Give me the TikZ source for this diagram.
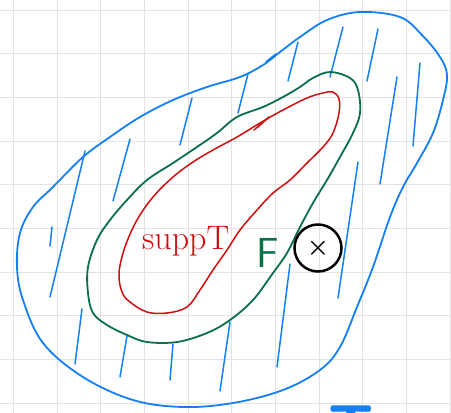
\documentclass[tikz,border=0pt]{standalone}
\usepackage{amsmath}
\usepackage{xcolor}
\usepackage{tikz}
\usetikzlibrary{positioning}
\definecolor{inkblue}{RGB}{20,128,245}
\definecolor{inkgreen}{RGB}{10,112,72}
\definecolor{inkred}{RGB}{205,15,15}
\tikzset{
  gridline/.style ={draw=black!11, line width=0.9pt},
  ink/.style      ={line width=1.8pt, line cap=round, line join=round},
  outerset/.style ={ink, draw=inkblue},
  hatch/.style    ={ink, draw=inkblue, line width=1.5pt},
  nbhd/.style     ={ink, draw=inkgreen},
  support/.style  ={ink, draw=inkred, line width=1.5pt},
  marked/.style   ={circle, draw=black, line width=2.5pt, minimum size=47pt,
    inner sep=0pt, font=\fontsize{26}{26}\selectfont},
  hand/.style     ={inner sep=0pt, anchor=base west}
}

\begin{document}
\begin{tikzpicture}[x=1pt, y=-1pt]
    \useasboundingbox (0,0) rectangle (451,413);
    \clip (0,0) rectangle (451,413);
    \fill[white] (0,0) rectangle (451,413);

    % ---------- squared paper ----------
    \foreach \i in {0,...,10}
      \draw[gridline] ({13.3+43.67*\i},0) -- ++(0,413);
    \foreach \j in {0,...,9}
      \draw[gridline] (0,{10+43.7*\j}) -- ++(451,0);

    % ---------- hatching of the outer set ----------
    \foreach \ax/\ay/\bx/\by in {343/27/330/77, 378/29/367/81, 420/63/413/146,
        397/77/380/184, 298/42/288/81, 248/74/238/113, 192/98/180/145,
        130/139/113/201, 85/151/50/297, 52/227/50/246, 82/309/75/364,
        127/336/120/377, 173/344/170/380, 230/322/220/391, 290/264/277/367,
        358/162/338/298}
      \draw[hatch] (\ax,\ay) -- (\bx,\by);

    % ---------- outer set ----------
    \draw[outerset] plot[smooth cycle, tension=0.6] coordinates {
      (360,12) (400,17) (422,35) (440,57) (447,75) (443,100) (433,133)
      (417,163) (403,187) (390,217) (373,267) (357,307) (340,347) (320,370)
      (283,390) (233,403) (183,407) (133,400) (83,377) (43,343) (23,300)
      (17,267) (20,233) (33,207) (53,187) (83,157) (110,137) (140,117)
      (173,100) (207,87) (240,77) (263,65) (280,52) (300,37) (327,20)};
    \draw[outerset] (266,62) -- (276,54);

    % ---------- neighbourhood F ----------
    \draw[nbhd] plot[smooth cycle, tension=0.6] coordinates {
      (330,72) (350,78) (358,90) (360,113) (353,133) (340,157) (327,180)
      (313,203) (300,227) (287,253) (273,273) (253,300) (230,320) (207,333)
      (177,342) (147,342) (127,335) (107,325) (93,313) (88,293) (88,267)
      (97,240) (110,220) (127,200) (147,180) (173,163) (197,147) (217,133)
      (237,117) (263,107) (283,97) (300,87) (313,78)};

    % ---------- support of T ----------
    \draw[support] plot[smooth cycle, tension=0.6] coordinates {
      (333,92) (339,99) (339,113) (333,133) (323,147) (307,163) (290,180)
      (273,193) (257,210) (240,230) (227,250) (213,270) (200,290) (187,307)
      (167,313) (147,312) (130,302) (122,292) (119,273) (125,247) (137,220)
      (153,197) (173,177) (193,162) (213,150) (237,137) (260,123) (283,110)
      (307,98) (323,93)};
    \draw[support] (254,130) -- (269,117) -- (258,127);

    % ---------- labels and marked point ----------
    \node[hand, text=inkred, font=\fontsize{34}{34}\selectfont]
      (supp) at (142,249) {suppT};
    \node[hand, text=inkgreen, font=\sffamily\fontsize{42}{42}\selectfont]
      (nbF) at (256,267) {F};
    \node[marked] (pt) at (318,248) {$\boldsymbol{\times}$};
    \node[hand, anchor=base, text=inkblue,
      font=\sffamily\bfseries\fontsize{62}{62}\selectfont]
      (opT) at (351,448) {T};

\end{tikzpicture}
\end{document}
